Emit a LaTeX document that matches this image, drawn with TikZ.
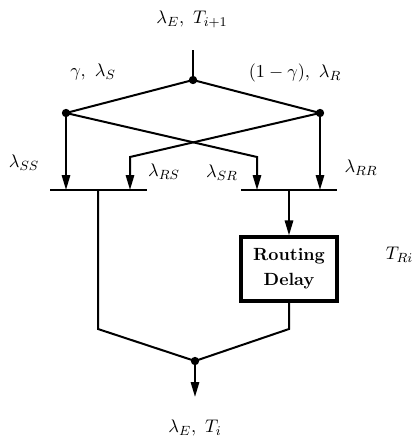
\documentclass[tikz,border=0pt]{standalone}
\usepackage{amsmath,amssymb}
\usepackage{fontspec}
\usetikzlibrary{arrows.meta, positioning, calc}
\tikzset{
  flow/.style={line width=1.2pt},
  flowarrow/.style={flow, -{Triangle[length=9pt,width=5pt]}},
  junction/.style={circle, fill, inner sep=0pt, minimum size=5pt},
  delaybox/.style={draw, line width=1.9pt, minimum width=57.6pt,
    minimum height=38.4pt, align=center,
    font=\fontsize{10.6}{13}\selectfont\bfseries, inner sep=0pt},
}
\begin{document}
\begin{tikzpicture}[x=0.6pt, y=-0.6pt, font=\fontsize{11}{14}\selectfont]
  \useasboundingbox (0,0) rectangle (413,439);
  % input and first split
  \node (inlbl) at (192,19) {$\lambda_E,\ T_{i+1}$};
  \coordinate (in) at (193,50);
  \node[junction] (split) at (193,80) {};
  \node[junction] (splitS) at (66,113) {};
  \node[junction] (splitR) at (320,113) {};
  \node (lblS) at (93,72) {$\gamma,\ \lambda_S$};
  \node (lblR) at (295,73) {$(1-\gamma),\ \lambda_R$};
  \draw[flow] (in) -- (split.center);
  \draw[flow] (splitS.center) -- (split.center) -- (splitR.center);
  % merge bars
  \coordinate (barSl) at (50,190);  \coordinate (barSr) at (147,190);
  \coordinate (barRl) at (241,190); \coordinate (barRr) at (337,190);
  \draw[flow] (barSl) -- (barSr);
  \draw[flow] (barRl) -- (barRr);
  % second split, crossing paths
  \coordinate (bendRS) at (130,157);
  \coordinate (bendSR) at (257,157);
  \draw[flowarrow] (splitS.center) -- (66,190);
  \draw[flowarrow] (splitS.center) -- (bendSR) -- (257,190);
  \draw[flowarrow] (splitR.center) -- (bendRS) -- (130,190);
  \draw[flowarrow] (splitR.center) -- (320,190);
  \node (lblSS) at (24,163) {$\lambda_{SS}$};
  \node (lblRS) at (164,172) {$\lambda_{RS}$};
  \node (lblSR) at (222,173) {$\lambda_{SR}$};
  \node (lblRR) at (361,168) {$\lambda_{RR}$};
  % routing delay
  \node[delaybox] (delay) at (289,269) {Routing\\[2pt]Delay};
  \node[anchor=west] (lblTR) at (380,255) {$T_{Ri}$};
  \draw[flowarrow] (289,190) -- (delay.north);
  % output merge
  \node[junction] (merge) at (195,361) {};
  \coordinate (out) at (195,397);
  \node (outlbl) at (195,428) {$\lambda_E,\ T_i$};
  \draw[flow] (98,190) -- (98,329) -- (merge.center);
  \draw[flow] (delay.south) -- (289,329) -- (merge.center);
  \draw[flowarrow] (merge.center) -- (out);
\end{tikzpicture}
\end{document}
